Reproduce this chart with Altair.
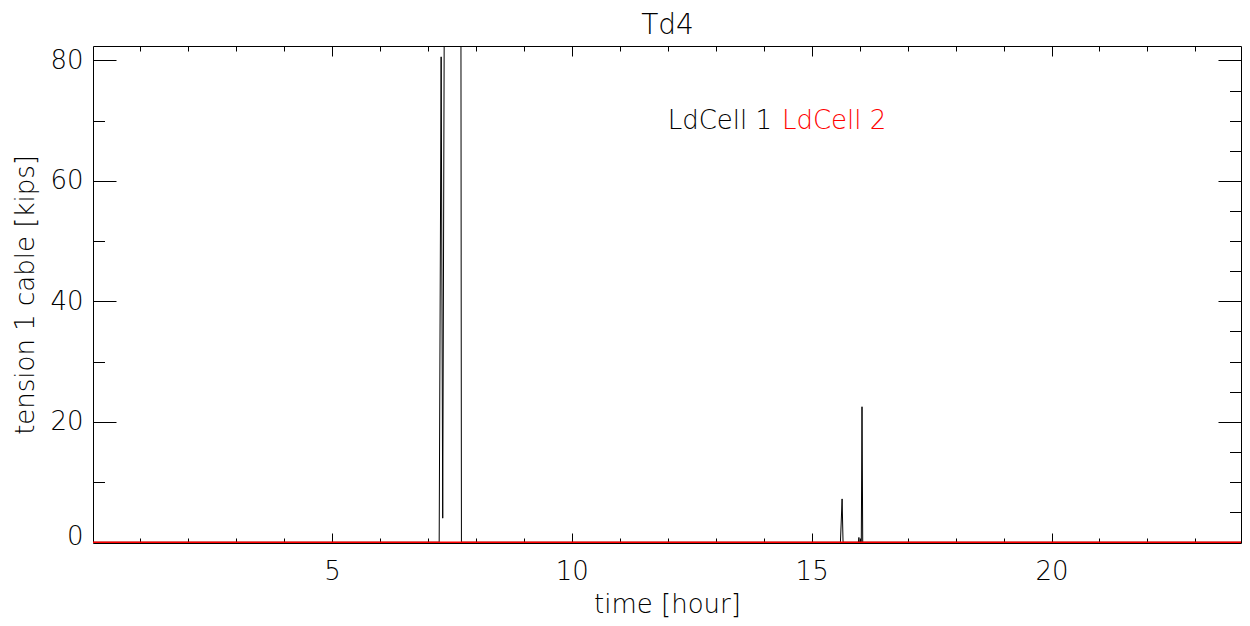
import altair as alt
import pandas as pd

# ---- data ----
t_ld1 = [0.02, 7.20, 7.236, 7.277, 7.31, 7.34, 7.69, 7.70, 15.60, 15.635, 15.655,
         15.975, 15.985, 15.995, 16.035, 16.05, 16.065, 23.95]
v_ld1 = [0, 0, 0, 80.6, 4.0, 120, 120, 0, 0, 7.2, 0,
         0, 0.8, 0, 0, 22.5, 0, 0]
t_ld2 = [0.02, 23.95]
v_ld2 = [0, 0]

legend_labels = ["LdCell 1", "LdCell 2"]
legend_colors = ["black", "red"]
legend_t = [12.0, 14.38]
legend_v = [69.9, 69.9]

chart_title = "Td4"
x_ticks = list(range(1, 24))
y_ticks = list(range(0, 85, 5))
x_domain = [0.02, 23.95]
y_domain = [-0.12, 82.4]

FONT = "DejaVu Sans"
FW = 200
FS = 26
W, H = 1148, 497

df1 = pd.DataFrame({"t": t_ld1, "v": v_ld1})
df2 = pd.DataFrame({"t": t_ld2, "v": v_ld2})
dfl = pd.DataFrame({"label": legend_labels, "c": legend_colors, "t": legend_t, "v": legend_v})

xs = alt.Scale(domain=x_domain, nice=False, zero=False)
ys = alt.Scale(domain=y_domain, nice=False, zero=False, clamp=True)

x_tick_size = alt.condition("datum.value % 5 === 0", alt.value(-10), alt.value(-5))
y_tick_size = alt.condition("datum.value % 20 === 0", alt.value(-23), alt.value(-11.5))

common = dict(tickColor="black", tickWidth=1, domain=True, domainColor="black",
              domainWidth=1, grid=False, zindex=0)

x_axis_bottom = alt.Axis(
    orient="bottom", values=x_ticks, tickSize=x_tick_size, title="time [hour]",
    labelExpr="datum.value % 5 === 0 ? datum.label : ''",
    labelPadding=38, labelBaseline="middle", labelFont=FONT, labelFontWeight=FW,
    labelFontSize=FS, labelColor="black",
    titleFont=FONT, titleFontWeight=FW, titleFontSize=FS, titleColor="black",
    titleY=61, titleBaseline="middle", **common,
)
y_axis_left = alt.Axis(
    orient="left", values=y_ticks, tickSize=y_tick_size, title="tension 1 cable [kips]",
    labelExpr="datum.value % 20 === 0 ? datum.label : ''",
    labelPadding=33, labelFont=FONT, labelFontWeight=FW, labelFontSize=FS, labelColor="black",
    labelOffset=alt.condition("datum.value === 0", alt.value(-6), alt.value(0)),
    titleFont=FONT, titleFontWeight=FW, titleFontSize=FS, titleColor="black",
    titleX=-68, titleBaseline="middle", **common,
)
x_axis_top = alt.Axis(
    orient="top", values=x_ticks, tickSize=x_tick_size, labels=False, title=chart_title,
    titleFont=FONT, titleFontWeight=FW, titleFontSize=28, titleColor="black",
    titleX=W / 2, titleY=-13, titleBaseline="alphabetic", titleAlign="center", **common,
)
y_axis_right = alt.Axis(
    orient="right", values=y_ticks, tickSize=y_tick_size, labels=False, title=None, **common,
)

black = alt.Chart(df1).mark_line(clip=True, color="black", strokeWidth=1).encode(
    x=alt.X("t:Q", scale=xs, axis=x_axis_bottom),
    y=alt.Y("v:Q", scale=ys, axis=y_axis_left),
)
red = alt.Chart(df2).mark_line(clip=True, color="red", strokeWidth=1.6).encode(
    x=alt.X("t:Q", scale=xs),
    y=alt.Y("v:Q", scale=ys),
)
text = alt.Chart(dfl).mark_text(
    align="left", baseline="middle", font=FONT, fontWeight=FW, fontSize=FS
).encode(
    x=alt.X("t:Q", scale=xs),
    y=alt.Y("v:Q", scale=ys),
    text="label:N",
    color=alt.Color("c:N", scale=None),
)
main = alt.layer(black, red, text)

frame = alt.Chart(df2).mark_point(opacity=0).encode(
    x=alt.X("t:Q", scale=xs, axis=x_axis_top),
    y=alt.Y("v:Q", scale=ys, axis=y_axis_right),
)

chart = alt.layer(frame, main).resolve_scale(x="independent", y="independent").properties(
    width=W, height=H,
    autosize=alt.AutoSizeParams(type="none"),
    padding={"left": 85, "top": 38, "right": 1, "bottom": 75},
).configure_view(strokeWidth=0)

chart.save("out.html", embed_options={"renderer": "svg", "actions": False})
